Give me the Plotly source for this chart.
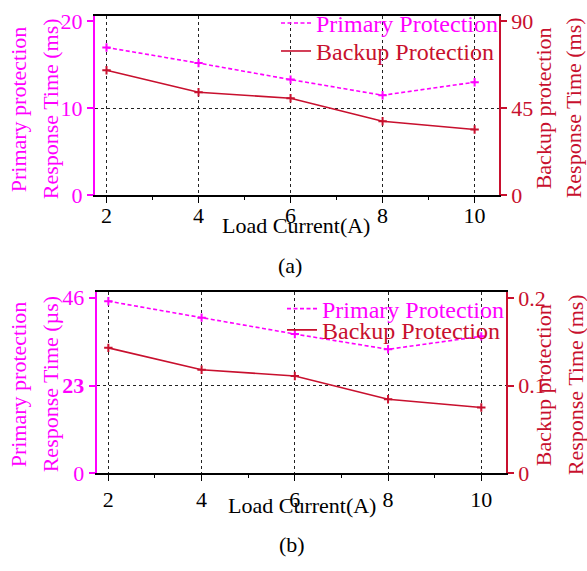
import plotly.graph_objects as go

W, H = 587, 571

load_current = [2, 4, 6, 8, 10]
primary_a_ms = [17.0, 15.2, 13.3, 11.5, 13.0]
backup_a_ms = [64.7, 53.3, 50.2, 38.3, 34.0]
primary_b_us = [45.1, 40.8, 36.5, 32.5, 35.9]
backup_b_ms = [0.143, 0.118, 0.111, 0.0845, 0.075]

MAG = "#FF00FF"
RED = "#C8102E"
FONT = "Liberation Serif"
FS = 22
LFS = 24


def px_x(p):
    return p / W


def px_y(p):
    return 1 - p / H


fig = go.Figure()


def series(y, color, dash, name, xa, ya, legend):
    fig.add_trace(go.Scatter(x=load_current, y=y, mode="lines",
                             name=f'<span style="color:{color}">{name}</span>',
                             line=dict(color=color, dash=dash, width=1.6),
                             xaxis=xa, yaxis=ya, legend=legend))
    fig.add_trace(go.Scatter(x=load_current, y=y, mode="markers", showlegend=False,
                             marker=dict(symbol="cross-thin", size=6, color=color,
                                         line=dict(width=2, color=color)),
                             xaxis=xa, yaxis=ya, hoverinfo="skip"))


DASH = "4px,2.5px"
series(primary_a_ms, MAG, DASH, "Primary Protection", "x", "y", "legend")
series(backup_a_ms, RED, "solid", "Backup Protection", "x", "y2", "legend2")
series(primary_b_us, MAG, DASH, "Primary Protection", "x2", "y3", "legend3")
series(backup_b_ms, RED, "solid", "Backup Protection", "x2", "y4", "legend4")

top_x = [px_x(95), px_x(499)]
top_y = [px_y(195), px_y(9.5)]
bot_x = [px_x(96.7), px_x(506)]
bot_y = [px_y(483.3), px_y(295)]

xcommon = dict(range=[1.75, 10.53], tickvals=[2, 4, 6, 8, 10], showline=True, linecolor="black",
               linewidth=1.5, mirror=True, ticks="outside", ticklen=6, tickcolor="black",
               showgrid=True, gridcolor="#222", griddash="dot", gridwidth=1, zeroline=False,
               tickfont=dict(family=FONT, size=FS, color="black"),
               minor=dict(tickvals=[3, 5, 7, 9], ticks="outside", ticklen=3, tickcolor="black", showgrid=False))

fig.update_layout(
    width=W, height=H, margin=dict(l=0, r=0, t=0, b=0),
    paper_bgcolor="white", plot_bgcolor="white",
    font=dict(family=FONT, size=FS),
    xaxis=dict(domain=top_x, anchor="y", ticklabelstandoff=-6, **xcommon),
    xaxis2=dict(domain=bot_x, anchor="y3", ticklabelstandoff=-1, **xcommon),
    yaxis=dict(domain=top_y, anchor="x", range=[0, 20.6], tickvals=[0, 10, 20],
               showline=True, linecolor=MAG, linewidth=2, ticks="outside", ticklen=6, tickcolor=MAG,
               tickwidth=1.5, showgrid=False, zeroline=False,
               tickfont=dict(family=FONT, size=FS, color=MAG),
               minor=dict(tickvals=[10], ticks="", showgrid=True, gridcolor="#222", griddash="dot", gridwidth=1)),
    yaxis2=dict(overlaying="y", side="right", anchor="x", range=[0, 92.7], tickvals=[0, 45, 90],
                showline=True, linecolor=RED, linewidth=1.5, ticks="outside", ticklen=6, tickcolor=RED,
                tickwidth=1.5, showgrid=False, zeroline=False,
                tickfont=dict(family=FONT, size=FS, color=RED)),
    yaxis3=dict(domain=bot_y, anchor="x2", range=[0, 47.6], tickvals=[0, 23, 46],
                ticktext=["0", "<b>23</b>", "46"],
                showline=True, linecolor=MAG, linewidth=2, ticks="outside", ticklen=6, tickcolor=MAG,
                tickwidth=1.5, showgrid=False, zeroline=False,
                tickfont=dict(family=FONT, size=FS, color=MAG),
                minor=dict(tickvals=[23], ticks="", showgrid=True, gridcolor="#222", griddash="dot", gridwidth=1)),
    yaxis4=dict(overlaying="y3", side="right", anchor="x2", range=[0, 0.207], tickvals=[0, 0.1, 0.2],
                ticktext=["0", "0.1", "0.2"],
                showline=True, linecolor=RED, linewidth=1.5, ticks="outside", ticklen=6, tickcolor=RED,
                tickwidth=1.5, showgrid=False, zeroline=False,
                tickfont=dict(family=FONT, size=FS, color=RED)),
    showlegend=True,
)

leg = dict(bgcolor="rgba(0,0,0,0)", borderwidth=0, itemwidth=30, xanchor="left", yanchor="middle",
           font=dict(family=FONT, size=LFS), itemclick=False)
fig.update_layout(
    legend=dict(x=px_x(276), y=px_y(17), **leg),
    legend2=dict(x=px_x(276), y=px_y(46), **leg),
    legend3=dict(x=px_x(282), y=px_y(313), **leg),
    legend4=dict(x=px_x(282), y=px_y(335), **leg),
)

ann = []


def text(x, y, s, color, angle=0):
    ann.append(dict(x=px_x(x), y=px_y(y), xref="paper", yref="paper", text=s, showarrow=False,
                    textangle=angle, xanchor="center", yanchor="middle",
                    font=dict(family=FONT, size=FS, color=color)))


text(18, 106, "Primary protection", MAG, -90)
text(50, 106, "Response Time (ms)", MAG, -90)
text(543, 105, "Backup protection", RED, -90)
text(573, 105, "Response Time (ms)", RED, -90)
text(296, 226, "Load Current(A)", "black")
text(290, 268, "(a)", "black")

text(18, 391, "Primary protection", MAG, -90)
text(50, 391, "Response Time (µs)", MAG, -90)
text(543, 392, "Backup protection", RED, -90)
text(575, 392, "Response Time (ms)", RED, -90)
text(302, 517, "Load Current(A)", "black")
text(292, 557, "(b)", "black")

fig.update_layout(annotations=ann)

fig.write_html("out.html")
